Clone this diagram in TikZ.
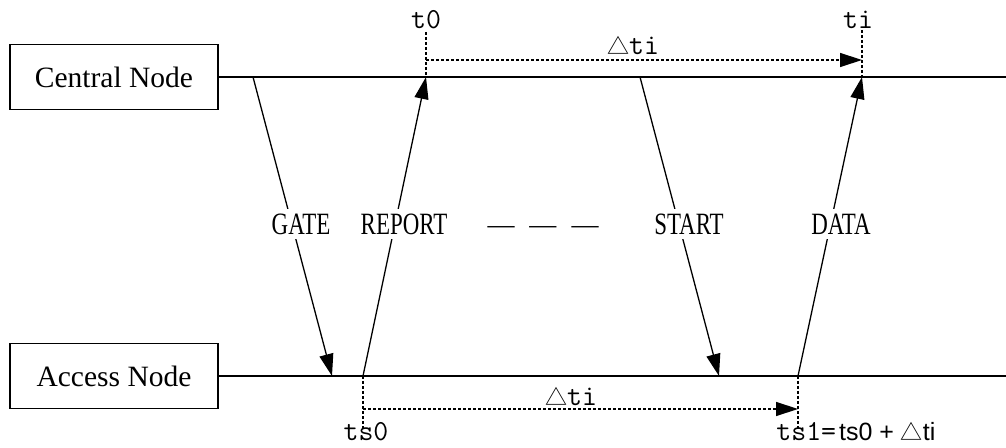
\documentclass[tikz,border=0pt]{standalone}
\usepackage{fontspec}
\usepackage{graphicx}
\setmainfont{Liberation Serif}
\newfontfamily\plainsans{Liberation Sans}
\newfontfamily\cjkfont{Noto Sans CJK SC}
\usetikzlibrary{arrows.meta}

% narrow capitals for the message names
\newcommand\condensed[1]{\scalebox{0.74}[1]{#1}}
% the delta sign
\newcommand\deltasign{{\cjkfont\fontsize{11}{11}\selectfont △}}

\tikzset{
  nodebox/.style={draw, line width=0.65pt, minimum width=104pt, minimum height=32.5pt,
    inner sep=0pt, font=\fontsize{14.75}{16}\selectfont},
  timeline/.style={line width=0.65pt},
  tip/.style={-{Triangle[length=11pt,width=7pt]}},
  msg/.style={line width=0.65pt, tip},
  msgtag/.style={fill=white, inner xsep=1pt, inner ysep=2.5pt,
    font=\fontsize{15.5}{17}\selectfont},
  dotline/.style={line width=0.65pt, dash pattern=on 1.5pt off 1pt},
  dotarrow/.style={dotline, tip},
  tlab/.style={inner sep=0pt, font=\ttfamily\fontsize{14.5}{15}\selectfont},
}

\begin{document}
\begin{tikzpicture}[x=0.5pt,y=-0.5pt]
\useasboundingbox (0,0) rectangle (1006,448);

% the two stations and their time lines
\node[nodebox] (central) at (114,77) {Central Node};
\node[nodebox] (access) at (114,376) {Access Node};
\coordinate (cend) at (1006,77);
\coordinate (aend) at (1006,376);
\draw[timeline] (central.east) -- (cend);
\draw[timeline] (access.east) -- (aend);

% end points of the messages on the time lines
\coordinate (gate-s) at (253,77);
\coordinate (gate-e) at (332,376);
\coordinate (report-s) at (363,376);
\coordinate (report-e) at (426,77);
\coordinate (start-s) at (640,77);
\coordinate (start-e) at (719,376);
\coordinate (data-s) at (798,376);
\coordinate (data-e) at (862,77);

\draw[msg] (gate-s) -- (gate-e);
\draw[msg] (report-s) -- (report-e);
\draw[msg] (start-s) -- (start-e);
\draw[msg] (data-s) -- (data-e);

\node[msgtag] (gate) at (301,224) {\condensed{GATE}};
\node[msgtag] (report) at (404,224) {\condensed{REPORT}};
\node[msgtag, fill=none, font=\fontsize{13.5}{15}\selectfont] (more) at (543,230) {—\hspace{7.5pt}—\hspace{7.5pt}—};
\node[msgtag] (start) at (689,224) {\condensed{START}};
\node[msgtag] (data) at (841,224) {\condensed{DATA}};

% timing marks at the central node
\node[tlab] (t0) at (426,20) {t0};
\coordinate (t0-foot) at (426,32);
\draw[dotline] (t0-foot) -- (report-e);
\node[tlab] (ti) at (858,20) {ti};
\coordinate (ti-foot) at (862,30);
\draw[dotline] (ti-foot) -- (data-e);
\coordinate (t0-mark) at (426,60);
\coordinate (ti-mark) at (862,60);
\draw[dotarrow] (t0-mark) -- (ti-mark);
\node[tlab] (dtop) at (633,46) {\deltasign ti};

% timing marks at the access node
\coordinate (ts0-foot) at (363,431);
\draw[dotline] (report-s) -- (ts0-foot);
\node[tlab] (ts0) at (366,432) {ts0};
\coordinate (ts0-mark) at (363,409);
\coordinate (ts1-mark) at (798,409);
\draw[dotarrow] (ts0-mark) -- (ts1-mark);
\node[tlab] (dbot) at (571,397) {\deltasign ti};
\coordinate (ts1-foot) at (798,431);
\draw[dotline] (data-s) -- (ts1-foot);
\node[tlab, anchor=west] (ts1) at (776,432) {ts1=\hspace{1.5pt}{\plainsans\fontsize{12.5}{14}\selectfont ts0 + \deltasign ti}};
\end{tikzpicture}
\end{document}
